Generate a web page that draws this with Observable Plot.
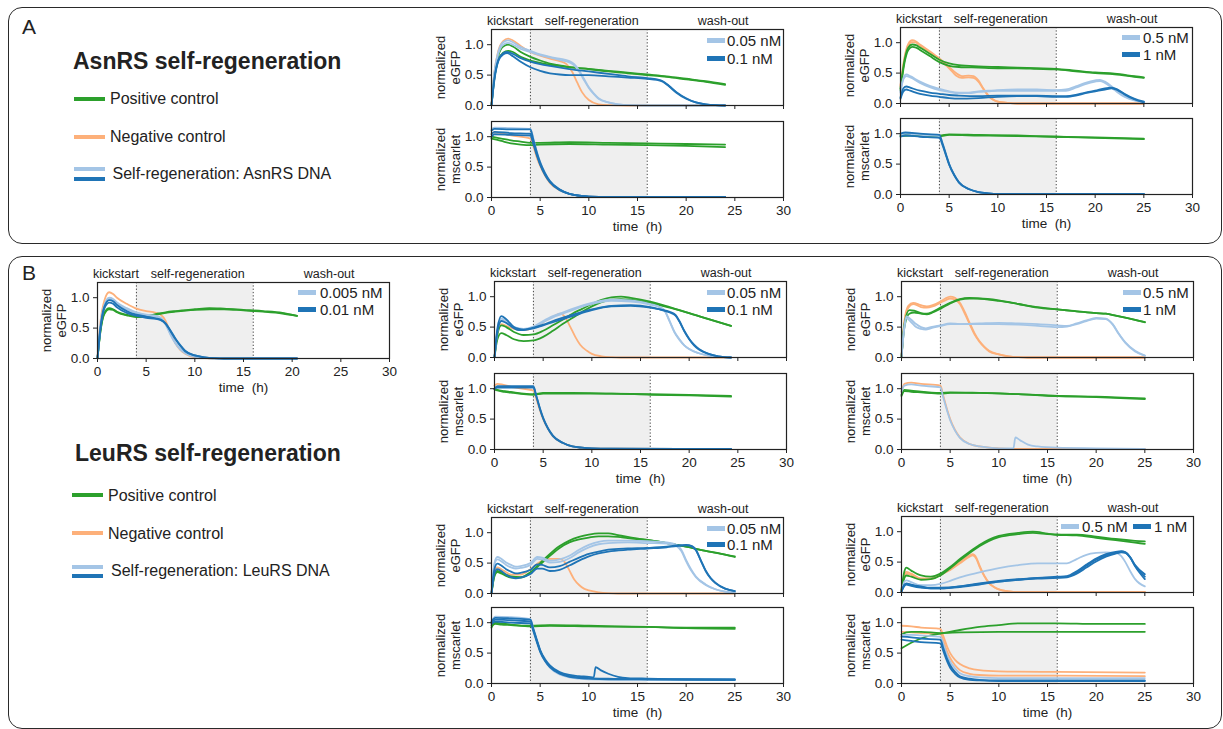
<!DOCTYPE html>
<html><head><meta charset="utf-8">
<script src="https://cdn.jsdelivr.net/npm/d3@7"></script>
<script src="https://cdn.jsdelivr.net/npm/@observablehq/plot@0.6"></script>
<style>
body{margin:0;background:#fff;font-family:"Liberation Sans",Arial,sans-serif;color:#222;}
#root{position:relative;width:1223px;height:729px;overflow:hidden;background:#fff;}
.box{position:absolute;border:1.6px solid #2a2a2a;border-radius:14px;box-sizing:border-box;}
.t{position:absolute;white-space:nowrap;line-height:1;color:#222;}
.sw{position:absolute;}
</style></head><body><div id="root"></div>
<script>
// ---------- shared chart settings ----------
const conditions = ["pos", "neg", "low", "high"];
const conditionColors = ["#2ca02c", "#fdb07a", "#a4c5e6", "#1f74b6"];
const phases = [{start: 4, end: 16}];
const phaseBounds = [4, 16];
const phaseLabels = [{x: 1.9, label: "kickstart"}, {x: 10.3, label: "self-regeneration"}, {x: 23.8, label: "wash-out"}];
const xTicks = [0, 5, 10, 15, 20, 25, 30];
const yTicks = [0, 0.5, 1];

// ---------- A: AsnRS, 0.05 / 0.1 nM ----------
const a1Egfp = [
  {c:"neg", v:[[0,0],[0.3,0.55],[0.7,0.9],[1.2,1.06],[1.7,1.1],[2.2,1.07],[3,0.98],[4,0.88],[5,0.82],[6,0.77],[7,0.73],[7.7,0.68],[8.3,0.55],[8.8,0.38],[9.3,0.22],[10,0.09],[11,0.02],[12,0.005],[14,0],[24,0]]},
  {c:"pos", v:[[0,0],[0.3,0.5],[0.7,0.82],[1.2,0.97],[1.7,1.0],[2.2,0.97],[3,0.88],[4,0.8],[5,0.74],[6,0.69],[7,0.66],[8,0.63],[10,0.6],[12,0.56],[14,0.53],[16,0.5],[18,0.47],[20,0.43],[22,0.39],[24,0.34]]},
  {c:"pos", v:[[0,0],[0.3,0.45],[0.7,0.75],[1.2,0.87],[1.7,0.9],[2.2,0.88],[3,0.8],[4,0.74],[5,0.7],[6,0.67],[7,0.65],[8,0.63],[10,0.6],[12,0.57],[14,0.54],[16,0.51],[18,0.48],[20,0.44],[22,0.4],[24,0.35]]},
  {c:"low", v:[[0,0],[0.3,0.55],[0.7,0.88],[1.2,1.04],[1.7,1.07],[2.2,1.04],[3,0.96],[4,0.9],[5,0.84],[6,0.8],[7,0.77],[8,0.73],[8.5,0.68],[9,0.58],[9.5,0.44],[10,0.3],[10.5,0.2],[11,0.12],[12,0.05],[13,0.02],[14,0.005],[16,0],[24,0]]},
  {c:"low", v:[[0,0],[0.3,0.52],[0.7,0.85],[1.2,1.0],[1.7,1.03],[2.2,1.0],[3,0.93],[4,0.88],[5,0.83],[6,0.79],[7,0.75],[8,0.71],[8.5,0.66],[9,0.56],[9.5,0.42],[10,0.29],[10.5,0.19],[11,0.11],[12,0.05],[13,0.02],[14,0.005],[16,0],[24,0]]},
  {c:"high", v:[[0,0],[0.3,0.45],[0.7,0.75],[1.2,0.86],[1.6,0.88],[2.2,0.85],[3,0.78],[4,0.72],[5,0.68],[6,0.65],[8,0.6],[10,0.56],[12,0.52],[14,0.48],[16,0.45],[17,0.43],[17.6,0.4],[18.2,0.33],[19,0.22],[20,0.12],[21,0.05],[22,0.02],[23,0.005],[24,0]]},
  {c:"high", v:[[0,0],[0.3,0.42],[0.7,0.73],[1.2,0.84],[1.6,0.86],[2.2,0.81],[3,0.72],[4,0.63],[5,0.57],[6,0.53],[7,0.51],[8,0.5],[10,0.5],[12,0.48],[14,0.46],[16,0.44],[17,0.42],[17.6,0.39],[18.2,0.32],[19,0.21],[20,0.11],[21,0.05],[22,0.02],[23,0.005],[24,0]]}
];
const a1Mscarlet = [
  {c:"neg", v:[[0,1.05],[0.3,1.07],[2,1.02],[4,0.97],[4.3,0.84],[4.7,0.64],[5,0.52],[5.5,0.36],[6,0.24],[7,0.12],[8,0.06],[9,0.03],[10,0.015],[12,0.01],[24,0.01]]},
  {c:"pos", v:[[0,1.0],[1,0.97],[2,0.94],[3,0.92],[4,0.9],[5,0.9],[8,0.91],[12,0.9],[16,0.89],[20,0.88],[24,0.87]]},
  {c:"pos", v:[[0,0.97],[1,0.93],[2,0.89],[3,0.87],[4,0.86],[5,0.87],[8,0.88],[12,0.87],[16,0.86],[20,0.85],[24,0.83]]},
  {c:"low", v:[[0,1.12],[0.3,1.15],[2,1.14],[4,1.13],[4.3,0.97],[4.7,0.73],[5,0.58],[5.5,0.4],[6,0.27],[7,0.13],[8,0.06],[9,0.03],[10,0.015],[12,0.01],[24,0.01]]},
  {c:"high", v:[[0,1.1],[0.3,1.13],[2,1.12],[4,1.12],[4.3,0.95],[4.7,0.72],[5,0.58],[5.5,0.4],[6,0.27],[7,0.13],[8,0.06],[9,0.03],[10,0.015],[12,0.01],[24,0.01]]},
  {c:"high", v:[[0,1.04],[0.3,1.08],[2,1.06],[4,1.05],[4.3,0.9],[4.7,0.69],[5,0.55],[5.5,0.38],[6,0.26],[7,0.13],[8,0.06],[9,0.03],[10,0.015],[12,0.01],[24,0.01]]},
  {c:"high", v:[[0,1.0],[0.3,1.04],[2,1.03],[4,1.02],[4.3,0.88],[4.7,0.67],[5,0.54],[5.5,0.37],[6,0.25],[7,0.12],[8,0.06],[9,0.03],[10,0.015],[12,0.01],[24,0.01]]}
];

// ---------- A: AsnRS, 0.5 / 1 nM ----------
const a2Egfp = [
  {c:"neg", v:[[0,0.3],[0.4,0.75],[0.8,0.98],[1.2,1.04],[1.6,1.02],[2,0.97],[3,0.86],[4,0.74],[5,0.6],[5.7,0.5],[6.3,0.45],[7,0.46],[7.5,0.45],[8,0.38],[8.5,0.25],[9,0.14],[9.5,0.07],[10,0.03],[11,0.01],[12,0],[25,0]]},
  {c:"neg", v:[[0,0.28],[0.4,0.72],[0.8,0.95],[1.2,1.01],[1.6,1.0],[2,0.95],[3,0.84],[4,0.72],[5,0.58],[5.7,0.46],[6.3,0.42],[7,0.43],[7.5,0.42],[8,0.36],[8.5,0.24],[9,0.13],[9.5,0.06],[10,0.03],[11,0.01],[12,0],[25,0]]},
  {c:"pos", v:[[0,0.25],[0.4,0.7],[0.8,0.92],[1.2,0.97],[1.6,0.96],[2,0.92],[3,0.82],[4,0.72],[5,0.66],[6,0.63],[8,0.61],[10,0.6],[12,0.59],[14,0.58],[16,0.57],[18,0.54],[20,0.51],[22,0.49],[24,0.45],[25,0.43]]},
  {c:"pos", v:[[0,0.22],[0.4,0.66],[0.8,0.88],[1.2,0.93],[1.6,0.92],[2,0.88],[3,0.78],[4,0.68],[5,0.62],[6,0.6],[8,0.59],[10,0.58],[12,0.58],[14,0.57],[16,0.56],[18,0.53],[20,0.5],[22,0.48],[24,0.44],[25,0.42]]},
  {c:"low", v:[[0,0.2],[0.3,0.42],[0.6,0.48],[1,0.45],[2,0.36],[3,0.29],[4,0.24],[5,0.2],[6,0.18],[7,0.18],[8,0.2],[9,0.21],[10,0.22],[12,0.23],[14,0.23],[16,0.22],[17,0.23],[18,0.28],[19,0.34],[20,0.38],[20.5,0.39],[21,0.36],[22,0.24],[23,0.12],[24,0.06],[25,0.03]]},
  {c:"low", v:[[0,0.18],[0.3,0.4],[0.6,0.45],[1,0.43],[2,0.34],[3,0.27],[4,0.22],[5,0.19],[6,0.17],[7,0.17],[8,0.19],[9,0.2],[10,0.21],[12,0.21],[14,0.21],[16,0.21],[17,0.21],[18,0.26],[19,0.32],[20,0.36],[20.5,0.37],[21,0.34],[22,0.22],[23,0.11],[24,0.05],[25,0.02]]},
  {c:"high", v:[[0,0.1],[0.3,0.25],[0.6,0.28],[1,0.26],[2,0.21],[3,0.18],[4,0.16],[5,0.14],[6,0.13],[8,0.12],[10,0.13],[12,0.13],[14,0.13],[16,0.12],[17,0.12],[18,0.14],[19,0.18],[20,0.21],[21,0.25],[21.7,0.26],[22.3,0.23],[23,0.16],[24,0.08],[25,0.03]]},
  {c:"high", v:[[0,0.08],[0.3,0.2],[0.6,0.23],[1,0.21],[2,0.16],[3,0.13],[4,0.11],[5,0.09],[6,0.08],[8,0.09],[10,0.11],[12,0.12],[14,0.12],[16,0.11],[17,0.11],[18,0.13],[19,0.17],[20,0.2],[21,0.23],[21.7,0.25],[22.3,0.22],[23,0.15],[24,0.07],[25,0.02]]}
];
const a2Mscarlet = [
  {c:"pos", v:[[0,0.97],[1,0.98],[4,0.97],[5,0.99],[8,0.98],[12,0.97],[16,0.95],[20,0.94],[25,0.92]]},
  {c:"pos", v:[[0,0.96],[1,0.97],[4,0.96],[5,0.98],[8,0.97],[12,0.96],[16,0.95],[20,0.93],[25,0.91]]},
  {c:"low", v:[[0,0.98],[0.5,1.0],[2,0.98],[4,0.96],[4.3,0.84],[4.7,0.64],[5,0.5],[5.5,0.33],[6,0.2],[7,0.09],[8,0.04],[9,0.02],[10,0.01],[25,0.01]]},
  {c:"high", v:[[0,1.0],[0.5,1.02],[2,1.0],[4,0.98],[4.3,0.85],[4.7,0.65],[5,0.5],[5.5,0.33],[6,0.2],[7,0.09],[8,0.04],[9,0.02],[10,0.01],[25,0.01]]},
  {c:"high", v:[[0,0.95],[0.5,0.97],[2,0.95],[4,0.93],[4.3,0.82],[4.7,0.63],[5,0.49],[5.5,0.32],[6,0.2],[7,0.09],[8,0.04],[9,0.02],[10,0.01],[25,0.01]]}
];

// ---------- B: LeuRS, 0.005 / 0.01 nM ----------
const b0Egfp = [
  {c:"neg", v:[[0,0],[0.3,0.6],[0.7,0.95],[1.2,1.09],[1.6,1.06],[2,1.0],[3,0.9],[4,0.82],[5,0.78],[6,0.75],[6.5,0.72],[7,0.62],[7.5,0.42],[8,0.25],[8.5,0.14],[9,0.08],[10,0.02],[11,0.005],[12,0],[20.5,0]]},
  {c:"pos", v:[[0,0],[0.3,0.45],[0.7,0.75],[1.2,0.83],[1.6,0.81],[2,0.77],[3,0.72],[4,0.69],[5,0.7],[6,0.73],[7,0.76],[8,0.78],[10,0.81],[11.5,0.83],[13,0.82],[15,0.8],[17,0.78],[19,0.75],[20.5,0.7]]},
  {c:"pos", v:[[0,0],[0.3,0.44],[0.7,0.73],[1.2,0.81],[1.6,0.8],[2,0.76],[3,0.71],[4,0.68],[5,0.69],[6,0.72],[7,0.75],[8,0.77],[10,0.8],[11.5,0.81],[13,0.81],[15,0.79],[17,0.77],[19,0.74],[20.5,0.7]]},
  {c:"low", v:[[0,0],[0.3,0.55],[0.7,0.88],[1.2,1.0],[1.6,0.98],[2,0.92],[3,0.83],[4,0.76],[5,0.72],[6,0.7],[6.5,0.67],[7,0.57],[7.5,0.4],[8,0.26],[8.5,0.16],[9,0.09],[10,0.03],[11,0.01],[12,0],[20.5,0]]},
  {c:"low", v:[[0,0],[0.3,0.53],[0.7,0.86],[1.2,0.98],[1.6,0.96],[2,0.9],[3,0.81],[4,0.75],[5,0.71],[6,0.69],[6.5,0.66],[7,0.56],[7.5,0.39],[8,0.25],[8.5,0.15],[9,0.09],[10,0.03],[11,0.01],[12,0],[20.5,0]]},
  {c:"high", v:[[0,0],[0.3,0.5],[0.7,0.85],[1.2,0.96],[1.6,0.94],[2,0.88],[3,0.78],[4,0.72],[5,0.69],[6,0.66],[6.5,0.64],[7,0.58],[7.5,0.46],[8,0.33],[8.5,0.22],[9,0.13],[10,0.05],[11,0.02],[12,0.005],[13,0],[20.5,0]]},
  {c:"high", v:[[0,0],[0.3,0.48],[0.7,0.82],[1.2,0.92],[1.6,0.9],[2,0.84],[3,0.75],[4,0.7],[5,0.67],[6,0.65],[6.5,0.63],[7,0.57],[7.5,0.45],[8,0.32],[8.5,0.21],[9,0.12],[10,0.05],[11,0.02],[12,0.005],[13,0],[20.5,0]]}
];

// ---------- B: LeuRS, 0.05 / 0.1 nM (upper) ----------
const b1Egfp = [
  {c:"neg", v:[[0,0],[0.3,0.4],[0.7,0.55],[1.2,0.52],[2,0.47],[3,0.45],[4,0.49],[5,0.58],[6,0.67],[6.8,0.72],[7.3,0.65],[7.8,0.5],[8.3,0.34],[8.8,0.21],[9.5,0.11],[10,0.06],[11,0.02],[12,0.005],[13,0],[24.3,0]]},
  {c:"pos", v:[[0,0],[0.3,0.38],[0.7,0.53],[1.2,0.5],[2,0.42],[3,0.37],[4,0.38],[5,0.44],[6,0.53],[7,0.62],[8,0.72],[9,0.8],[10,0.88],[11,0.95],[12,0.99],[13,1.0],[14,0.98],[16,0.92],[18,0.83],[20,0.73],[22,0.63],[24.3,0.52]]},
  {c:"pos", v:[[0,0],[0.3,0.3],[0.7,0.4],[1.2,0.37],[2,0.3],[3,0.27],[4,0.28],[5,0.34],[6,0.44],[7,0.55],[8,0.65],[9,0.75],[10,0.84],[11,0.91],[12,0.95],[13,0.96],[14,0.95],[16,0.9],[18,0.82],[20,0.73],[22,0.63],[24.3,0.52]]},
  {c:"low", v:[[0,0],[0.3,0.45],[0.7,0.64],[1.2,0.6],[2,0.5],[3,0.47],[4,0.51],[5,0.6],[6,0.68],[7,0.74],[8,0.8],[10,0.9],[12,0.95],[14,0.94],[16,0.88],[17,0.83],[17.5,0.77],[18,0.6],[18.5,0.42],[19,0.3],[19.5,0.2],[20,0.14],[21,0.07],[22,0.03],[23,0.01],[24.3,0]]},
  {c:"low", v:[[0,0],[0.3,0.43],[0.7,0.61],[1.2,0.58],[2,0.49],[3,0.46],[4,0.5],[5,0.58],[6,0.66],[7,0.72],[8,0.78],[10,0.88],[12,0.93],[14,0.92],[16,0.87],[17,0.82],[17.5,0.76],[18,0.59],[18.5,0.41],[19,0.29],[19.5,0.2],[20,0.14],[21,0.07],[22,0.03],[23,0.01],[24.3,0]]},
  {c:"high", v:[[0,0],[0.3,0.48],[0.7,0.68],[1.2,0.63],[2,0.5],[2.5,0.47],[3,0.46],[4,0.49],[5,0.54],[6,0.6],[8,0.7],[10,0.79],[12,0.85],[14,0.86],[16,0.83],[17,0.79],[18,0.75],[18.6,0.7],[19,0.6],[19.5,0.44],[20,0.31],[20.5,0.21],[21,0.14],[22,0.06],[23,0.02],[24.3,0]]},
  {c:"high", v:[[0,0],[0.3,0.42],[0.7,0.6],[1.2,0.57],[2,0.48],[2.5,0.45],[3,0.45],[4,0.48],[5,0.53],[6,0.58],[8,0.68],[10,0.78],[12,0.84],[14,0.85],[16,0.82],[17,0.79],[18,0.74],[18.6,0.69],[19,0.59],[19.5,0.43],[20,0.3],[20.5,0.2],[21,0.13],[22,0.06],[23,0.02],[24.3,0]]}
];
const b1Mscarlet = [
  {c:"neg", v:[[0,1.05],[0.3,1.08],[2,1.02],[4,0.97],[4.3,0.83],[4.7,0.63],[5,0.5],[5.5,0.34],[6,0.22],[7,0.11],[8,0.05],[9,0.03],[10,0.02],[12,0.015],[24.3,0.01]]},
  {c:"pos", v:[[0,1.0],[0.3,0.98],[1,0.96],[2,0.94],[3,0.92],[4,0.91],[5,0.93],[8,0.93],[12,0.92],[16,0.91],[20,0.9],[24.3,0.88]]},
  {c:"pos", v:[[0,0.99],[0.3,0.97],[1,0.95],[2,0.93],[3,0.91],[4,0.9],[5,0.92],[8,0.92],[12,0.92],[16,0.9],[20,0.89],[24.3,0.87]]},
  {c:"high", v:[[0,1.0],[0.3,1.04],[2,1.04],[4,1.04],[4.3,0.88],[4.7,0.66],[5,0.52],[5.5,0.35],[6,0.23],[7,0.11],[8,0.05],[9,0.03],[10,0.02],[12,0.015],[24.3,0.01]]},
  {c:"high", v:[[0,1.0],[0.3,1.02],[2,1.02],[4,1.02],[4.3,0.87],[4.7,0.65],[5,0.51],[5.5,0.34],[6,0.22],[7,0.11],[8,0.05],[9,0.03],[10,0.02],[12,0.015],[24.3,0.01]]}
];

// ---------- B: LeuRS, 0.5 / 1 nM (upper) ----------
const b2Egfp = [
  {c:"neg", v:[[0,0],[0.3,0.6],[0.7,0.85],[1.2,0.9],[2,0.86],[2.6,0.84],[3.2,0.86],[4,0.92],[4.5,0.97],[5,1.0],[5.5,0.98],[6,0.9],[6.5,0.75],[7,0.57],[7.5,0.4],[8,0.27],[8.5,0.18],[9,0.11],[10,0.05],[11,0.02],[12,0.005],[13,0],[25,0]]},
  {c:"neg", v:[[0,0],[0.3,0.58],[0.7,0.82],[1.2,0.88],[2,0.83],[2.6,0.82],[3.2,0.84],[4,0.9],[4.5,0.94],[5,0.97],[5.5,0.95],[6,0.88],[6.5,0.72],[7,0.55],[7.5,0.38],[8,0.26],[8.5,0.17],[9,0.1],[10,0.05],[11,0.02],[12,0.005],[13,0],[25,0]]},
  {c:"pos", v:[[0,0],[0.3,0.55],[0.8,0.78],[1.3,0.77],[2,0.73],[2.6,0.72],[3.2,0.75],[4,0.82],[5,0.9],[6,0.96],[7,0.98],[8,0.97],[10,0.93],[12,0.88],[14,0.83],[16,0.79],[18,0.76],[20,0.73],[21,0.72],[22,0.69],[24,0.62],[25,0.58]]},
  {c:"pos", v:[[0,0],[0.3,0.5],[0.8,0.72],[1.3,0.74],[2,0.72],[2.6,0.71],[3.2,0.74],[4,0.8],[5,0.89],[6,0.95],[7,0.97],[8,0.97],[10,0.94],[12,0.88],[14,0.82],[16,0.79],[18,0.76],[20,0.73],[21,0.72],[22,0.69],[24,0.62],[25,0.58]]},
  {c:"low", v:[[0,0],[0.25,0.45],[0.5,0.68],[1,0.62],[1.5,0.55],[2,0.5],[2.5,0.48],[3,0.5],[4,0.53],[5,0.56],[6,0.55],[8,0.56],[10,0.57],[12,0.56],[14,0.55],[16,0.53],[17,0.52],[18,0.56],[19,0.61],[20,0.65],[21,0.64],[21.7,0.55],[22.3,0.4],[23,0.25],[24,0.11],[25,0.03]]},
  {c:"low", v:[[0,0],[0.25,0.43],[0.5,0.65],[1,0.58],[1.5,0.5],[2,0.47],[2.5,0.46],[3,0.48],[4,0.52],[5,0.55],[6,0.55],[8,0.55],[10,0.55],[12,0.54],[14,0.52],[16,0.5],[17,0.51],[18,0.55],[19,0.6],[20,0.64],[21,0.63],[21.7,0.54],[22.3,0.39],[23,0.24],[24,0.1],[25,0.03]]}
];
const b2Mscarlet = [
  {c:"neg", v:[[0,0.95],[0.3,1.08],[1,1.1],[2,1.08],[4,1.05],[4.3,0.88],[4.7,0.65],[5,0.5],[5.5,0.32],[6,0.2],[7,0.09],[8,0.05],[9,0.03],[10,0.02],[12,0.01],[25,0.01]]},
  {c:"pos", v:[[0,0.9],[0.3,0.98],[1,0.97],[2,0.95],[4,0.93],[5,0.94],[8,0.93],[12,0.91],[16,0.88],[20,0.87],[25,0.84]]},
  {c:"pos", v:[[0,0.88],[0.3,0.96],[1,0.95],[2,0.94],[4,0.92],[5,0.93],[8,0.93],[12,0.91],[16,0.88],[20,0.86],[25,0.83]]},
  {c:"low", v:[[0,0.95],[0.3,1.05],[1,1.07],[2,1.05],[4,1.02],[4.3,0.85],[4.7,0.63],[5,0.48],[5.5,0.31],[6,0.19],[7,0.09],[8,0.05],[9,0.03],[10,0.02],[11.5,0.02],[11.7,0.2],[12.2,0.15],[13,0.08],[14,0.05],[16,0.03],[20,0.02],[25,0.01]]}
];

// ---------- B: LeuRS, 0.05 / 0.1 nM (lower) ----------
const b3Egfp = [
  {c:"neg", v:[[0,0],[0.3,0.36],[0.6,0.43],[1,0.4],[1.5,0.35],[2,0.31],[3,0.31],[4,0.4],[5,0.52],[6,0.57],[7,0.57],[7.5,0.52],[8,0.38],[8.5,0.23],[9,0.14],[9.5,0.08],[10,0.05],[11,0.02],[12,0.005],[13,0],[25,0]]},
  {c:"pos", v:[[0,0],[0.3,0.3],[0.6,0.37],[1,0.35],[1.5,0.31],[2,0.28],[3,0.27],[4,0.35],[5,0.5],[6,0.65],[7,0.78],[8,0.87],[9,0.93],[10,0.97],[11,0.99],[12,0.99],[13,0.96],[14,0.93],[16,0.88],[18,0.83],[20,0.77],[22,0.7],[24,0.64],[25,0.61]]},
  {c:"pos", v:[[0,0],[0.3,0.28],[0.6,0.35],[1,0.33],[1.5,0.29],[2,0.26],[3,0.26],[4,0.34],[5,0.48],[6,0.62],[7,0.75],[8,0.84],[9,0.89],[10,0.92],[11,0.94],[12,0.94],[13,0.93],[14,0.91],[16,0.88],[18,0.83],[20,0.77],[22,0.7],[24,0.64],[25,0.6]]},
  {c:"low", v:[[0,0],[0.3,0.5],[0.6,0.6],[1,0.57],[1.5,0.51],[2,0.47],[2.5,0.44],[3,0.45],[4,0.5],[4.7,0.6],[5.2,0.59],[6,0.54],[7,0.56],[8,0.62],[9,0.72],[10,0.8],[11,0.85],[12,0.87],[14,0.87],[16,0.86],[18,0.84],[19,0.8],[19.5,0.72],[20,0.55],[20.5,0.4],[21,0.28],[22,0.15],[23,0.07],[24,0.03],[25,0.01]]},
  {c:"low", v:[[0,0],[0.3,0.47],[0.6,0.56],[1,0.53],[1.5,0.47],[2,0.43],[2.5,0.41],[3,0.42],[4,0.47],[4.7,0.57],[5.2,0.56],[6,0.51],[7,0.52],[8,0.58],[9,0.68],[10,0.76],[11,0.81],[12,0.83],[14,0.84],[16,0.83],[18,0.82],[19,0.78],[19.5,0.7],[20,0.53],[20.5,0.38],[21,0.27],[22,0.14],[23,0.07],[24,0.03],[25,0.01]]},
  {c:"high", v:[[0,0],[0.3,0.4],[0.6,0.49],[1,0.46],[1.5,0.4],[2,0.36],[2.5,0.33],[3,0.34],[4,0.39],[4.7,0.48],[5.2,0.47],[6,0.43],[7,0.45],[8,0.52],[9,0.59],[10,0.65],[11,0.69],[12,0.72],[14,0.74],[16,0.75],[18,0.77],[19,0.79],[20,0.8],[20.6,0.78],[21,0.72],[21.5,0.55],[22,0.38],[22.5,0.26],[23,0.18],[24,0.08],[25,0.04]]},
  {c:"high", v:[[0,0],[0.3,0.33],[0.6,0.4],[1,0.37],[1.5,0.31],[2,0.27],[2.5,0.25],[3,0.26],[4,0.32],[4.7,0.41],[5.2,0.41],[6,0.37],[7,0.39],[8,0.46],[9,0.54],[10,0.61],[11,0.66],[12,0.69],[14,0.72],[16,0.74],[18,0.76],[19,0.78],[20,0.79],[20.6,0.77],[21,0.71],[21.5,0.54],[22,0.37],[22.5,0.25],[23,0.17],[24,0.08],[25,0.04]]}
];
const b3Mscarlet = [
  {c:"pos", v:[[0,0.92],[0.4,1.0],[1,0.99],[2,0.97],[4,0.95],[6,0.96],[10,0.95],[16,0.93],[20,0.92],[25,0.92]]},
  {c:"pos", v:[[0,0.95],[0.4,0.98],[1,0.97],[2,0.96],[4,0.94],[6,0.95],[10,0.94],[16,0.93],[20,0.91],[25,0.9]]},
  {c:"low", v:[[0,1.03],[0.4,1.1],[2,1.09],[4,1.06],[4.3,0.9],[4.7,0.68],[5,0.53],[5.5,0.37],[6,0.26],[7,0.15],[8,0.1],[9,0.08],[10,0.07],[16,0.06],[25,0.06]]},
  {c:"high", v:[[0,1.02],[0.4,1.08],[2,1.07],[4,1.05],[4.3,0.9],[4.7,0.7],[5,0.55],[5.5,0.4],[6,0.3],[7,0.19],[8,0.14],[9,0.12],[10,0.11],[10.5,0.1],[10.7,0.27],[11.2,0.22],[12,0.16],[13,0.11],[14,0.09],[16,0.08],[20,0.07],[25,0.07]]},
  {c:"high", v:[[0,1.0],[0.4,1.05],[2,1.04],[4,1.02],[4.3,0.88],[4.7,0.68],[5,0.54],[5.5,0.38],[6,0.28],[7,0.17],[8,0.12],[9,0.1],[10,0.09],[12,0.08],[16,0.07],[25,0.06]]},
  {c:"high", v:[[0,0.98],[0.4,1.02],[2,1.0],[4,0.99],[4.3,0.86],[4.7,0.66],[5,0.52],[5.5,0.37],[6,0.27],[7,0.16],[8,0.11],[9,0.09],[10,0.08],[12,0.07],[16,0.07],[25,0.06]]}
];

// ---------- B: LeuRS, 0.5 / 1 nM (lower) ----------
const b4Egfp = [
  {c:"neg", v:[[0,0.03],[0.3,0.28],[0.5,0.34],[1,0.31],[2,0.23],[3,0.23],[4,0.3],[5,0.38],[6,0.5],[7,0.61],[7.3,0.63],[7.7,0.57],[8,0.45],[8.5,0.28],[9,0.16],[9.5,0.09],[10,0.05],[11,0.02],[12,0.01],[25,0.01]]},
  {c:"neg", v:[[0,0.03],[0.3,0.26],[0.5,0.31],[1,0.29],[2,0.22],[3,0.22],[4,0.29],[5,0.37],[6,0.48],[7,0.59],[7.3,0.61],[7.7,0.55],[8,0.43],[8.5,0.27],[9,0.15],[9.5,0.09],[10,0.05],[11,0.02],[12,0.01],[25,0.01]]},
  {c:"pos", v:[[0,0.05],[0.3,0.35],[0.5,0.41],[1,0.36],[2,0.28],[3,0.26],[4,0.31],[5,0.42],[6,0.55],[7,0.67],[8,0.78],[9,0.87],[10,0.93],[12,0.98],[13.5,1.0],[15,0.97],[16,0.95],[18,0.95],[20,0.92],[22,0.88],[24,0.85],[25,0.84]]},
  {c:"pos", v:[[0,0.03],[0.3,0.24],[0.5,0.28],[1,0.26],[2,0.21],[3,0.22],[4,0.28],[5,0.4],[6,0.53],[7,0.65],[8,0.76],[9,0.85],[10,0.91],[12,0.96],[13.5,0.98],[15,0.96],[16,0.95],[18,0.94],[20,0.9],[22,0.86],[24,0.82],[25,0.8]]},
  {c:"low", v:[[0,0.02],[0.3,0.18],[0.5,0.2],[1,0.17],[2,0.12],[3,0.12],[4,0.14],[5,0.19],[6,0.25],[8,0.33],[10,0.4],[12,0.45],[14,0.48],[16,0.48],[17,0.48],[18,0.55],[19,0.62],[20,0.65],[21,0.66],[22,0.65],[22.5,0.61],[23,0.5],[23.5,0.35],[24,0.22],[25,0.1]]},
  {c:"high", v:[[0,0.02],[0.3,0.13],[0.5,0.15],[1,0.13],[2,0.1],[3,0.08],[4,0.08],[6,0.1],[8,0.15],[10,0.19],[12,0.22],[14,0.24],[16,0.26],[17,0.27],[18,0.35],[19,0.46],[20,0.56],[21,0.63],[22,0.67],[22.6,0.68],[23,0.66],[23.5,0.58],[24,0.45],[25,0.3]]},
  {c:"high", v:[[0,0.02],[0.3,0.11],[0.5,0.13],[1,0.11],[2,0.08],[3,0.07],[4,0.07],[6,0.09],[8,0.13],[10,0.18],[12,0.21],[14,0.23],[16,0.24],[17,0.25],[18,0.31],[19,0.41],[20,0.51],[21,0.59],[22,0.64],[22.6,0.66],[23,0.65],[23.5,0.57],[24,0.43],[25,0.22]]},
  {c:"high", v:[[0,0.02],[0.3,0.12],[0.5,0.14],[1,0.12],[2,0.09],[3,0.07],[4,0.07],[6,0.1],[8,0.14],[10,0.18],[12,0.21],[14,0.24],[16,0.25],[17,0.26],[18,0.33],[19,0.44],[20,0.54],[21,0.61],[22,0.65],[22.6,0.67],[23,0.66],[23.5,0.58],[24,0.44],[25,0.26]]}
];
const b4Mscarlet = [
  {c:"neg", v:[[0,0.95],[1,0.94],[2,0.92],[4,0.9],[4.3,0.78],[4.7,0.6],[5,0.5],[5.5,0.39],[6,0.32],[7,0.25],[8,0.22],[10,0.2],[16,0.19],[25,0.18]]},
  {c:"neg", v:[[0,0.85],[1,0.84],[2,0.83],[4,0.82],[4.3,0.7],[4.7,0.52],[5,0.42],[5.5,0.3],[6,0.22],[7,0.16],[8,0.14],[10,0.13],[16,0.13],[25,0.12]]},
  {c:"pos", v:[[0,0.58],[1,0.67],[2,0.74],[3,0.79],[4,0.82],[6,0.88],[8,0.93],[10,0.96],[12,0.99],[14,0.99],[16,0.99],[20,0.98],[25,0.98]]},
  {c:"pos", v:[[0,0.8],[0.5,0.84],[1,0.85],[2,0.85],[4,0.83],[6,0.84],[10,0.85],[16,0.85],[20,0.85],[25,0.85]]},
  {c:"low", v:[[0,0.8],[1,0.8],[2,0.79],[4,0.77],[4.3,0.65],[4.7,0.46],[5,0.36],[5.5,0.25],[6,0.17],[7,0.12],[8,0.1],[10,0.09],[16,0.09],[25,0.09]]},
  {c:"high", v:[[0,0.77],[1,0.76],[2,0.74],[4,0.72],[4.3,0.58],[4.7,0.4],[5,0.3],[5.5,0.19],[6,0.12],[7,0.08],[8,0.06],[10,0.05],[25,0.05]]},
  {c:"high", v:[[0,0.72],[1,0.7],[2,0.68],[4,0.66],[4.3,0.53],[4.7,0.36],[5,0.26],[5.5,0.16],[6,0.1],[7,0.06],[8,0.05],[10,0.04],[25,0.04]]}
];

// ---------- drawing ----------
const root = document.getElementById("root");
const FONT = '"Liberation Sans", Arial, sans-serif';

function panel(series, o) {
  const data = series.flatMap((s, i) => s.v.map(([t, y]) => ({t, y, c: s.c, id: i})));
  const mL = 60, mR = 20, mT = 24, mB = o.xlab ? 40 : 8, W = 292, H = 76;
  const marks = [
    Plot.rect(phases, {x1: "start", x2: "end", fill: "#efefef"}),
    Plot.ruleX(phaseBounds, {stroke: "#444", strokeWidth: 1, strokeDasharray: "1.3,2"}),
    Plot.line(data, {x: "t", y: "y", z: "id", stroke: "c", strokeWidth: 1.8, curve: "monotone-x"}),
    Plot.frame({stroke: "#222", strokeWidth: 1.2}),
    Plot.axisY({ticks: yTicks, tickFormat: d => d.toFixed(1), tickSize: 4, tickPadding: 4, label: null, fontSize: 13.5}),
    Plot.axisX({ticks: xTicks, tickSize: 4, tickPadding: 4, label: null, fontSize: 13.5,
                tickFormat: o.xlab ? (d => String(d)) : (() => "")}),
    Plot.text([o.ylabel], {text: d => d, frameAnchor: "left", textAnchor: "middle", lineAnchor: "middle",
                           rotate: -90, dx: -44, fontSize: 13, lineHeight: 1.15})
  ];
  if (o.xlab) marks.push(Plot.text(["time  (h)"], {text: d => d, frameAnchor: "bottom", lineAnchor: "middle", dy: 29, fontSize: 13.5}));
  if (o.phaseText) marks.push(Plot.text(phaseLabels, {x: "x", text: "label", frameAnchor: "top", lineAnchor: "middle", dy: -9, fontSize: 12.5}));
  const svg = Plot.plot({
    width: mL + W + mR, height: mT + H + mB,
    marginLeft: mL, marginRight: mR, marginTop: mT, marginBottom: mB,
    x: {domain: [0, 30]}, y: {domain: [0, 1.25]},
    color: {domain: conditions, range: conditionColors},
    style: {fontFamily: FONT, fontSize: "13px", color: "#222", background: "transparent", overflow: "visible"},
    marks
  });
  svg.style.position = "absolute";
  svg.style.left = (o.left - mL) + "px";
  svg.style.top = (o.top - mT) + "px";
  svg.style.maxWidth = "none";
  root.appendChild(svg);
}

function box(l, t, w, h) {
  const d = document.createElement("div");
  d.className = "box";
  Object.assign(d.style, {left: l + "px", top: t + "px", width: w + "px", height: h + "px"});
  root.appendChild(d);
}
function text(x, baseline, str, size, weight) {
  const d = document.createElement("div");
  d.className = "t";
  d.textContent = str;
  Object.assign(d.style, {left: x + "px", top: (baseline - 0.85 * size) + "px", fontSize: size + "px", fontWeight: weight || "normal"});
  root.appendChild(d);
}
function swatch(x, cy, w, h, color) {
  const d = document.createElement("div");
  d.className = "sw";
  Object.assign(d.style, {left: x + "px", top: (cy - h / 2) + "px", width: w + "px", height: h + "px", background: color});
  root.appendChild(d);
}
function miniLegend(items) {
  for (const [sx, cy, c, label, tx] of items) {
    swatch(sx, cy, 18, 5, conditionColors[conditions.indexOf(c)]);
    text(tx, cy + 5.3, label, 15);
  }
}

box(8, 7, 1214, 237);
box(8, 256, 1214, 473);
text(22, 34, "A", 21);
text(22, 280, "B", 21);

// panel A left legend
text(73, 70, "AsnRS self-regeneration", 23, "bold");
swatch(74, 98.5, 31, 4, conditionColors[0]); text(110, 105, "Positive control", 16);
swatch(74, 136.5, 31, 4, conditionColors[1]); text(110, 142.5, "Negative control", 16);
swatch(74, 169, 31, 4, conditionColors[2]); swatch(74, 179, 31, 4, conditionColors[3]);
text(112.5, 180, "Self-regeneration: AsnRS DNA", 16);

// panel B left legend
text(75, 462, "LeuRS self-regeneration", 23, "bold");
swatch(72, 495, 31, 4, conditionColors[0]); text(108, 501.5, "Positive control", 16);
swatch(72, 533, 31, 4, conditionColors[1]); text(108, 539.5, "Negative control", 16);
swatch(72, 567, 31, 4, conditionColors[2]); swatch(72, 576, 31, 4, conditionColors[3]);
text(111, 577, "Self-regeneration: LeuRS DNA", 16);

const GFP = "normalized\neGFP", MSC = "normalized\nmscarlet";
panel(a1Egfp, {left: 491, top: 29, ylabel: GFP, phaseText: true});
panel(a1Mscarlet, {left: 491, top: 121, ylabel: MSC, xlab: true});
panel(a2Egfp, {left: 900, top: 27, ylabel: GFP, phaseText: true});
panel(a2Mscarlet, {left: 900, top: 118, ylabel: MSC, xlab: true});
panel(b0Egfp, {left: 97, top: 282, ylabel: GFP, phaseText: true, xlab: true});
panel(b1Egfp, {left: 494, top: 281, ylabel: GFP, phaseText: true});
panel(b1Mscarlet, {left: 494, top: 373, ylabel: MSC, xlab: true});
panel(b2Egfp, {left: 901, top: 281, ylabel: GFP, phaseText: true});
panel(b2Mscarlet, {left: 901, top: 373, ylabel: MSC, xlab: true});
panel(b3Egfp, {left: 491, top: 517, ylabel: GFP, phaseText: true});
panel(b3Mscarlet, {left: 491, top: 607, ylabel: MSC, xlab: true});
panel(b4Egfp, {left: 901, top: 516, ylabel: GFP, phaseText: true});
panel(b4Mscarlet, {left: 901, top: 607, ylabel: MSC, xlab: true});

miniLegend([[707, 40, "low", "0.05 nM", 727], [707, 58, "high", "0.1 nM", 727]]);
miniLegend([[1122, 37, "low", "0.5 nM", 1143], [1122, 54.5, "high", "1 nM", 1143]]);
miniLegend([[298, 292, "low", "0.005 nM", 320], [298, 309.5, "high", "0.01 nM", 320]]);
miniLegend([[707, 292, "low", "0.05 nM", 727], [707, 309, "high", "0.1 nM", 727]]);
miniLegend([[1123, 292, "low", "0.5 nM", 1143], [1123, 309.5, "high", "1 nM", 1143]]);
miniLegend([[707, 528.5, "low", "0.05 nM", 727], [707, 544.5, "high", "0.1 nM", 727]]);
miniLegend([[1061, 526, "low", "0.5 nM", 1082], [1133, 526, "high", "1 nM", 1154]]);
</script></body></html>
